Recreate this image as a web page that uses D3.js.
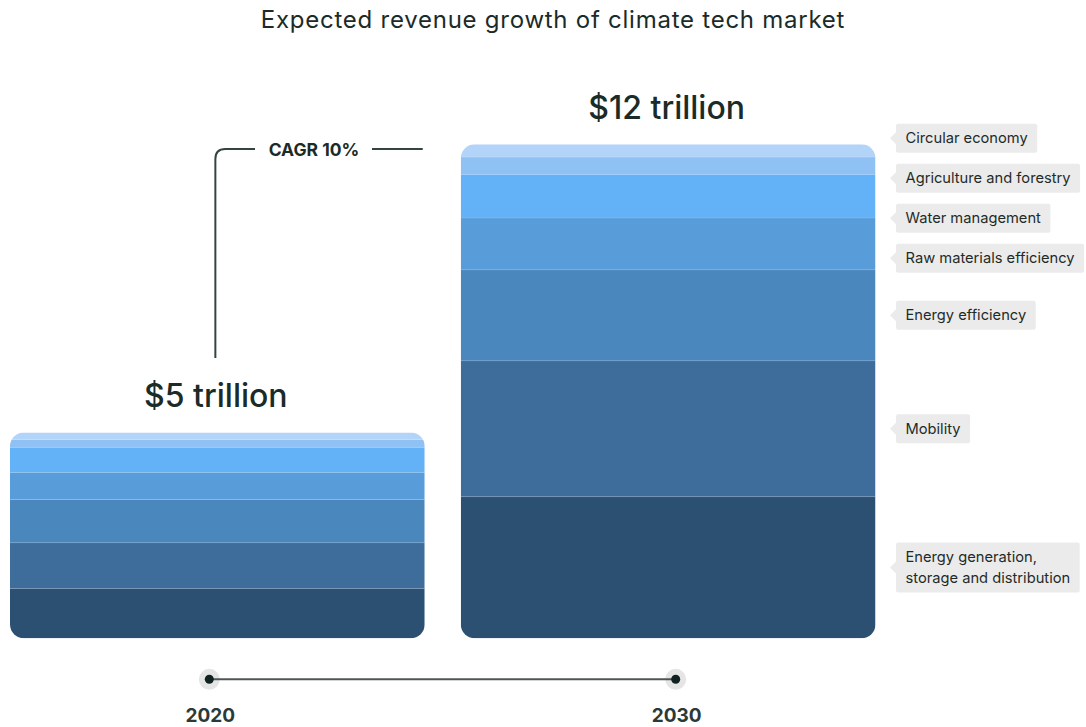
<!DOCTYPE html>
<html>
<head>
<meta charset="utf-8">
<script src="https://cdn.jsdelivr.net/npm/d3@7"></script>
<style>
  html, body { margin: 0; padding: 0; background: #ffffff; }
  svg { display: block; font-family: Inter, "Noto Sans", sans-serif; }
</style>
</head>
<body>
<svg id="chart" width="1086" height="727"></svg>
<script>
// Climate tech market revenue by segment, trillions of US dollars
const years = ["2020", "2030"];
const totals = [5, 12];
const totalLabels = ["$5 trillion", "$12 trillion"];
const segments = [
  "Energy generation, storage and distribution",
  "Mobility",
  "Energy efficiency",
  "Raw materials efficiency",
  "Water management",
  "Agriculture and forestry",
  "Circular economy"
];
const labelLines = [
  ["Energy generation,", "storage and distribution"],
  ["Mobility"],
  ["Energy efficiency"],
  ["Raw materials efficiency"],
  ["Water management"],
  ["Agriculture and forestry"],
  ["Circular economy"]
];
const values2020 = [1.21, 1.11, 1.05, 0.66, 0.61, 0.19, 0.17];
const values2030 = [3.44, 3.30, 2.21, 1.26, 1.06, 0.42, 0.31];
const segmentColors = ["#2c5071", "#3e6c9b", "#4a87bd", "#589dda", "#63b2f8", "#8fc1f5", "#b3d4f9"];
const cagrText = "CAGR 10%";
const title = "Expected revenue growth of climate tech market";

const svg = d3.select("#chart");
const ink = "#1b2b28";

const x = d3.scaleBand().domain(years).range([10, 875.5]).paddingInner(0.08);
const y = d3.scaleLinear().domain([0, 12]).range([638.3, 144.3]);
const color = d3.scaleOrdinal().domain(segments).range(segmentColors);
const timeX = d3.scalePoint().domain(years).range([209.3, 675.7]);

// Title
svg.append("text")
  .attr("x", 553).attr("y", 28)
  .attr("text-anchor", "middle")
  .attr("font-size", 24)
  .attr("letter-spacing", 0.75)
  .attr("font-weight", 400)
  .attr("fill", ink)
  .text(title);

// Stacked bars, clipped to rounded rectangles
const valueSets = [values2020, values2030];
const radius = 14;
const defs = svg.append("defs");

years.forEach((yr, i) => {
  const vals = valueSets[i];
  const total = d3.sum(vals);
  const clipId = "clip-" + yr;
  defs.append("clipPath").attr("id", clipId)
    .append("rect")
    .attr("x", x(yr)).attr("width", x.bandwidth())
    .attr("y", y(total)).attr("height", y(0) - y(total))
    .attr("rx", radius).attr("ry", radius);

  const stacked = [];
  let acc = 0;
  vals.forEach((v, k) => { stacked.push({ key: segments[k], y0: acc, y1: acc + v }); acc += v; });

  const g = svg.append("g").attr("clip-path", `url(#${clipId})`);
  g.selectAll("rect")
    .data(stacked)
    .join("rect")
    .attr("x", x(yr))
    .attr("width", x.bandwidth())
    .attr("y", d => y(d.y1))
    .attr("height", d => y(d.y0) - y(d.y1))
    .attr("fill", d => color(d.key));

  // Thin dividing lines between segments
  g.selectAll("line")
    .data(stacked.slice(1))
    .join("line")
    .attr("x1", x(yr)).attr("x2", x(yr) + x.bandwidth())
    .attr("y1", d => y(d.y0)).attr("y2", d => y(d.y0))
    .attr("stroke", "#ffffff").attr("stroke-opacity", 0.12).attr("stroke-width", 1);

  // Total label above bar
  svg.append("text")
    .attr("x", x(yr) + x.bandwidth() / 2 - 1.5)
    .attr("y", y(totals[i]) - 25)
    .attr("text-anchor", "middle")
    .attr("font-size", 32)
    .attr("font-weight", 500)
    .attr("fill", ink)
    .text(totalLabels[i]);
});

// CAGR bracket
const bx = x(years[0]) + x.bandwidth() / 2 - 2;
const by = 149;
const br = 10;
const bracket = d3.path();
bracket.moveTo(bx, 358);
bracket.lineTo(bx, by + br);
bracket.quadraticCurveTo(bx, by, bx + br, by);
bracket.lineTo(255, by);
svg.append("path").attr("d", bracket.toString())
  .attr("fill", "none").attr("stroke", "#344441").attr("stroke-width", 2);
svg.append("line")
  .attr("x1", 372).attr("x2", x(years[0]) + x.bandwidth() - 2)
  .attr("y1", by).attr("y2", by)
  .attr("stroke", "#344441").attr("stroke-width", 2);
svg.append("text")
  .attr("x", 314).attr("y", by + 6.5)
  .attr("text-anchor", "middle")
  .attr("font-size", 17.5)
  .attr("font-weight", 700)
  .attr("fill", ink)
  .text(cagrText);

// Segment labels beside the 2030 bar, spread apart where they would collide
const lastVals = values2030;
let cum = 0;
const labels = lastVals.map((v, k) => {
  const mid = y(cum + v / 2);
  cum += v;
  return { k, target: mid, pos: mid, lines: labelLines[k] };
});
const heights = labels.map(l => l.lines.length > 1 ? 50 : 29);
const ordered = labels.slice().sort((a, b) => a.target - b.target);
const gap = 11;
for (let iter = 0; iter < 200; iter++) {
  for (let j = 0; j < ordered.length - 1; j++) {
    const a = ordered[j], b = ordered[j + 1];
    const need = heights[a.k] / 2 + heights[b.k] / 2 + gap;
    const d = b.pos - a.pos;
    if (d < need) {
      const push = (need - d) / 2;
      a.pos -= push; b.pos += push;
    }
  }
}
const topLimit = y(12) - 6;
if (ordered[0].pos < topLimit) ordered[0].pos = topLimit;
for (let j = 1; j < ordered.length; j++) {
  const a = ordered[j - 1], b = ordered[j];
  const need = heights[a.k] / 2 + heights[b.k] / 2 + gap;
  if (b.pos - a.pos < need) b.pos = a.pos + need;
}

const barRight = x(years[1]) + x.bandwidth();
const boxX = barRight + 20.5;
const lg = svg.append("g").attr("font-size", 14.7).attr("fill", "#1f2b29");
labels.forEach(l => {
  const h = heights[l.k];
  const g = lg.append("g");
  const rect = g.append("rect")
    .attr("x", boxX).attr("y", l.pos - h / 2)
    .attr("height", h).attr("rx", 2).attr("fill", "#ebebeb");
  g.append("path")
    .attr("d", `M${boxX},${l.pos - 6}L${boxX - 6},${l.pos}L${boxX},${l.pos + 6}Z`)
    .attr("fill", "#ebebeb");
  let maxW = 0;
  l.lines.forEach((line, n) => {
    const t = g.append("text")
      .attr("x", boxX + 9.5)
      .attr("y", l.pos + 5 + (n - (l.lines.length - 1) / 2) * 21)
      .text(line);
    maxW = Math.max(maxW, t.node().getComputedTextLength());
  });
  rect.attr("width", maxW + 19);
});

// Timeline
const ty = 679.3;
svg.append("line")
  .attr("x1", timeX(years[0])).attr("x2", timeX(years[1]))
  .attr("y1", ty).attr("y2", ty)
  .attr("stroke", "#4b5755").attr("stroke-width", 2);
years.forEach(yr => {
  svg.append("circle").attr("cx", timeX(yr)).attr("cy", ty).attr("r", 10.5).attr("fill", "#e5e5e5").lower();
  svg.append("circle").attr("cx", timeX(yr)).attr("cy", ty).attr("r", 4.5).attr("fill", "#0f2220");
  svg.append("text")
    .attr("x", timeX(yr) + 1)
    .attr("y", 721.7)
    .attr("text-anchor", "middle")
    .attr("font-size", 19)
    .attr("font-weight", 700)
    .attr("fill", "#2b3a38")
    .text(yr);
});
</script>
</body>
</html>
